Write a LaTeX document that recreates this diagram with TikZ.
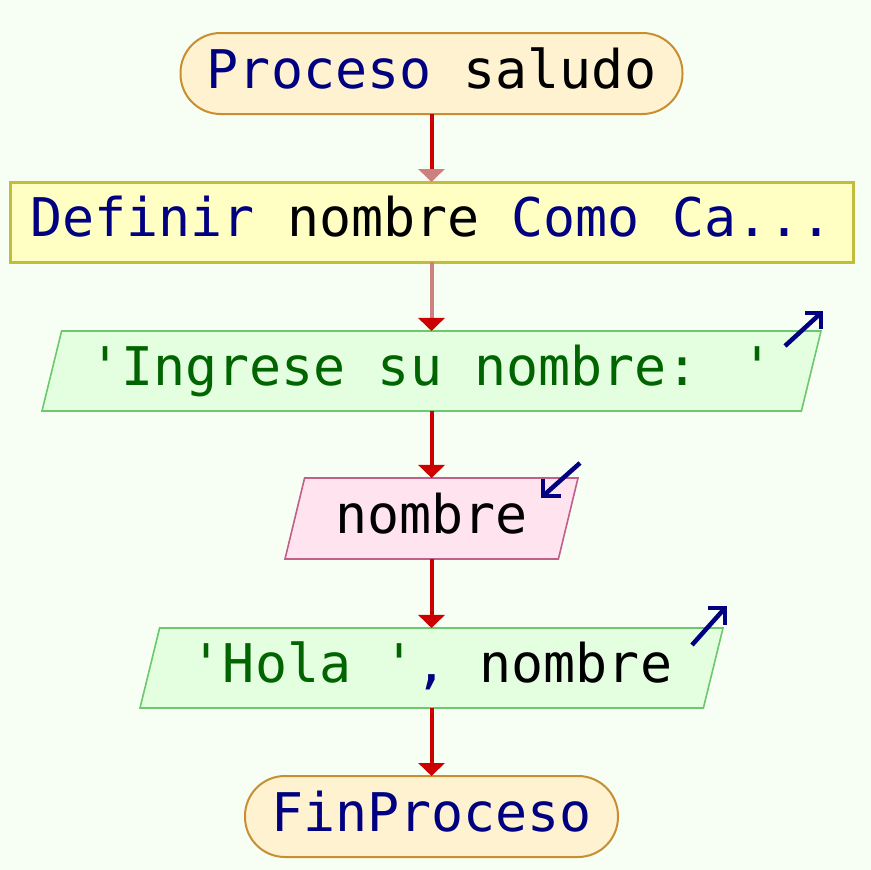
\documentclass[tikz,border=0pt]{standalone}
\usepackage{fontspec}
\usetikzlibrary{arrows.meta,shapes.geometric,calc}
\newfontfamily\mono{DejaVu Sans Mono}
\definecolor{bgC}{HTML}{F7FFF4}
\definecolor{termF}{HTML}{FFF2D0}
\definecolor{termD}{HTML}{C88E30}
\definecolor{procF}{HTML}{FFFFC4}
\definecolor{procD}{HTML}{C0BE3C}
\definecolor{outF}{HTML}{E4FFE0}
\definecolor{outD}{HTML}{6CC86C}
\definecolor{inF}{HTML}{FFE4F0}
\definecolor{inD}{HTML}{C06088}
\definecolor{redC}{HTML}{CC0000}
\definecolor{pinkC}{HTML}{CC8080}
\definecolor{navyC}{HTML}{000080}
\definecolor{greenC}{HTML}{006400}
\tikzset{
  box/.style={inner sep=0pt, outer sep=0pt, font=\mono\fontsize{53.3}{64}\selectfont,
    text height=39pt, text depth=10pt},
  term/.style={box, rectangle, rounded corners=40pt, draw=termD, fill=termF, line width=2pt, minimum height=81pt},
  proc/.style={box, rectangle, draw=procD, fill=procF, line width=3pt, minimum height=80pt},
  para/.style={box, trapezium, trapezium left angle=68.2, trapezium right angle=111.8,
    trapezium stretches body, line width=1.6pt},
  outbox/.style={para, draw=outD, fill=outF, minimum height=80pt},
  inbox/.style={para, draw=inD, fill=inF, minimum height=81pt},
  conn/.style={line width=4pt, draw=redC, -{Triangle[width=26pt,length=13pt,color=redC]}},
  connA/.style={line width=4pt, draw=redC, -{Triangle[width=26pt,length=13pt,color=pinkC]}},
  connB/.style={line width=4pt, draw=pinkC, -{Triangle[width=26pt,length=13pt,color=redC]}},
  icon/.style={draw=navyC, line width=4.5pt, miter limit=10},
}
\begin{document}
\begin{tikzpicture}[x=1pt,y=-1pt]
\fill[bgC] (0,0) rectangle (871,870);
\useasboundingbox (0,0) rectangle (871,870);

\node[term, minimum width=502pt] (start) at (431.5,73.5) {\textcolor{navyC}{Proceso} saludo};
\node[proc, minimum width=843pt] (def) at (431.5,222) {\textcolor{navyC}{Definir} nombre \textcolor{navyC}{Como Ca...}};
\node[outbox, minimum width=779pt] (ing) at (431.5,371) {\textcolor{greenC}{'Ingrese su nombre: '}};
\node[inbox, minimum width=293pt] (nom) at (431.5,518.5) {nombre};
\node[outbox, minimum width=583pt] (hola) at (431.5,668) {\textcolor{greenC}{'Hola '}\textcolor{navyC}{,} nombre};
\node[term, minimum width=373pt] (fin) at (431.5,816.5) {\textcolor{navyC}{FinProceso}};

\draw[connA] (start.south) -- (start.south |- def.north);
\draw[connB] (def.south) -- (def.south |- ing.north);
\draw[conn] (ing.south) -- (ing.south |- nom.north);
\draw[conn] (nom.south) -- (nom.south |- hola.north);
\draw[conn] (hola.south) -- (hola.south |- fin.north);

% output icon on ing
\coordinate (ingT) at ($(ing.top right corner)+(0,-18)$);
\draw[icon] ($(ing.top right corner)+(-36,15)$) -- (ingT);
\draw[icon] ($(ingT)+(-16,0)$) -- (ingT) -- ($(ingT)+(0,16)$);
% input icon on nom
\coordinate (nomT) at ($(nom.top right corner)+(-35,18)$);
\draw[icon] ($(nom.top right corner)+(2,-15)$) -- (nomT);
\draw[icon] ($(nomT)+(0,-17)$) -- (nomT) -- ($(nomT)+(18,0)$);
% output icon on hola
\coordinate (holaT) at ($(hola.top right corner)+(2,-20)$);
\draw[icon] ($(hola.top right corner)+(-31,17)$) -- (holaT);
\draw[icon] ($(holaT)+(-17,0)$) -- (holaT) -- ($(holaT)+(0,17)$);
\end{tikzpicture}
\end{document}
